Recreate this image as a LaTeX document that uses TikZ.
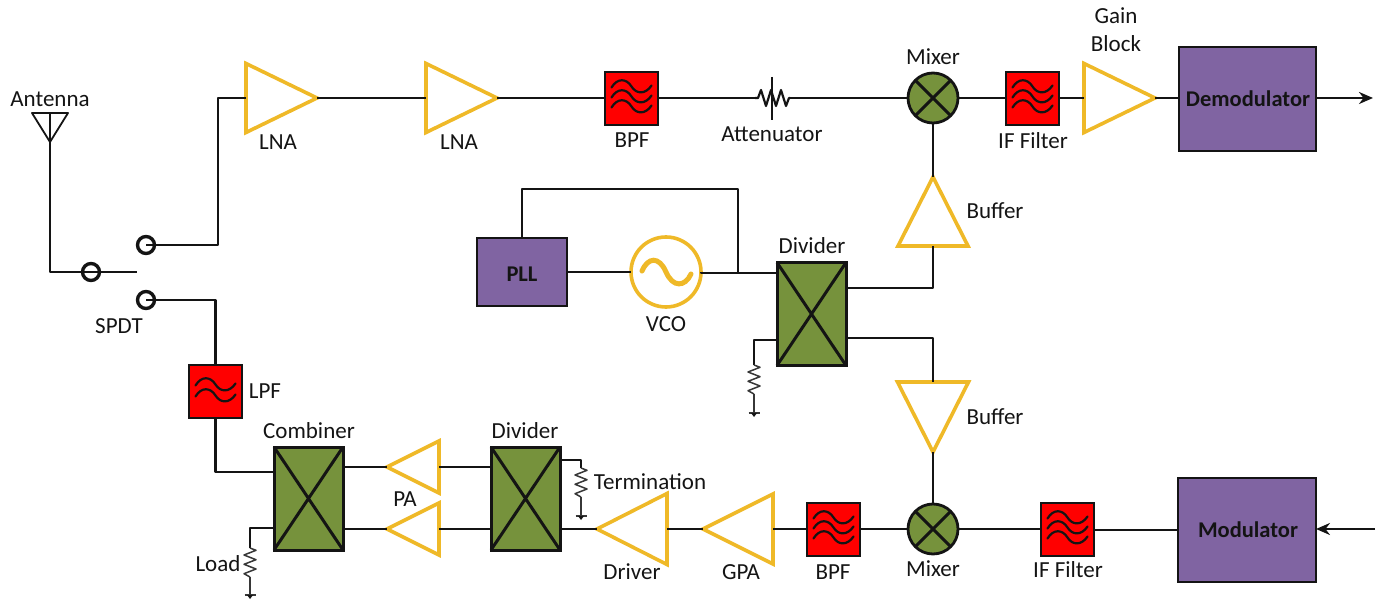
\documentclass[tikz,border=0pt]{standalone}
\usepackage{fontspec}
\setmainfont{Carlito}
\usetikzlibrary{shapes.geometric,arrows.meta}
\definecolor{amber}{HTML}{EFB928}
\definecolor{leaf}{HTML}{76923C}
\definecolor{plum}{HTML}{8064A2}
\definecolor{ink}{HTML}{141414}
\tikzset{
  wire/.style={draw=ink,line width=2.4pt,line join=round},
  thinwire/.style={draw=ink!85,line width=1.5pt,line join=round},
  lbl/.style={font=\fontsize{23}{25}\selectfont,text=ink,inner sep=0pt},
  blbl/.style={font=\fontsize{22.5}{25}\selectfont\bfseries,text=ink,inner sep=0pt},
  amp/.style={isosceles triangle,isosceles triangle stretches,shape border rotate=#1,
    draw=amber,line width=3.6pt,fill=white,inner sep=0pt,outer sep=0pt,line join=miter,anchor=apex},
  filt/.style={rectangle,draw=ink,line width=2.8pt,fill=red,minimum width=53pt,minimum height=53pt,inner sep=0pt,outer sep=0pt},
  block/.style={rectangle,draw=ink,line width=2.6pt,fill=plum,inner sep=0pt,outer sep=0pt},
  hyb/.style={rectangle,draw=ink,line width=3pt,fill=leaf,minimum width=69pt,minimum height=103pt,inner sep=0pt,outer sep=0pt},
  mix/.style={circle,draw=ink,line width=2.8pt,fill=leaf,minimum size=50pt,inner sep=0pt,outer sep=0pt},
  port/.style={circle,draw=ink,line width=3.4pt,minimum size=17pt,inner sep=0pt,outer sep=0pt},
  wave/.style={draw=ink,line width=2.2pt,line cap=round},
}
\newcommand\onewave[2]{\begin{scope}[shift={(#1.center)}]\draw[wave] (-20,#2-2) .. controls (-14,#2-12) and (-5,#2-11) .. (0,#2-3) .. controls (5,#2+5) and (14,#2+5) .. (20,#2-4);\end{scope}}
\newcommand\threewave[1]{\onewave{#1}{-9}\onewave{#1}{1}\onewave{#1}{11}}
\newcommand\twowave[1]{\onewave{#1}{-4}\onewave{#1}{7}}
\newcommand\crossed[1]{\draw[wire,line width=3pt] (#1.north west) -- (#1.south east) (#1.south west) -- (#1.north east);}
\newcommand\zig[2]{\draw[thinwire] (#1) -- ++(6,2.3) -- ++(-12,4.7) -- ++(12,4.7) -- ++(-12,4.6) -- ++(12,4.7) -- ++(-12,4.7) -- (#2);}
\newcommand\gnd[1]{\draw[thinwire] ([xshift=-5.5pt]#1) -- ([xshift=5.5pt]#1);\fill[ink] ([xshift=-3pt]#1) -- ([xshift=3pt]#1) -- ([yshift=-4pt]#1) -- cycle;}
\begin{document}
\begin{tikzpicture}[x=1pt,y=-1pt]
\useasboundingbox (0,0) rectangle (1381,601);
% switch contacts
\node[port] (swIn) at (91,272) {};
\node[port] (swUp) at (146,245) {};
\node[port] (swDn) at (146,300) {};
% amplifiers
\node[amp=0,minimum width=69pt,minimum height=71pt] (lna1) at (317,98) {};
\node[amp=0,minimum width=69pt,minimum height=71pt] (lna2) at (497,98) {};
\node[amp=0,minimum width=69pt,minimum height=71pt] (gain) at (1155,98) {};
\node[amp=90,minimum width=70pt,minimum height=69pt] (buf1) at (933,177) {};
\node[amp=270,minimum width=71pt,minimum height=70pt] (buf2) at (933,452) {};
\node[amp=180,minimum width=52pt,minimum height=52pt] (pa1) at (387,467) {};
\node[amp=180,minimum width=52pt,minimum height=52pt] (pa2) at (387,529) {};
\node[amp=180,minimum width=71pt,minimum height=70pt] (drv) at (597,529) {};
\node[amp=180,minimum width=70pt,minimum height=70pt] (gpa) at (703,529) {};
% filters
\node[filt] (bpf1) at (631.5,98.5) {};\threewave{bpf1}
\node[filt] (if1) at (1032.5,98.5) {};\threewave{if1}
\node[filt] (bpf2) at (833.5,529.5) {};\threewave{bpf2}
\node[filt] (if2) at (1067.5,529.5) {};\threewave{if2}
\node[filt] (lpf) at (215.5,391.5) {};\twowave{lpf}
% mixers
\node[mix] (mix1) at (933,98) {};\crossed{mix1}
\node[mix] (mix2) at (933,529) {};\crossed{mix2}
% hybrids
\node[hyb] (cmb) at (308.5,498.5) {};\crossed{cmb}
\node[hyb] (dv2) at (525.5,498.5) {};\crossed{dv2}
\node[hyb] (dv1) at (811.5,314) {};\crossed{dv1}
% blocks
\node[block,minimum width=137pt,minimum height=104pt] (dem) at (1247.5,99) {};
\node[block,minimum width=138pt,minimum height=104pt] (mod) at (1247,530) {};
\node[block,minimum width=90pt,minimum height=68pt] (pll) at (522,272) {};
% VCO
\node[circle,draw=amber,line width=3.6pt,fill=white,minimum size=70pt,inner sep=0pt,outer sep=0pt] (vco) at (666,272) {};
\begin{scope}[shift={(vco.center)}]
\draw[amber,line width=5pt,line cap=round] (-24,-1) .. controls (-18,-15) and (-7,-16) .. (0,0) .. controls (7,16) and (19,15) .. (25,2);
\end{scope}
% free coordinates
\coordinate (antTip) at (50,142);
\coordinate (antL) at (32,113);
\coordinate (antR) at (68,113);
\coordinate (antTop) at (50,113);
\coordinate (swEnd) at (137,272);
\coordinate (loadA) at (250,548);
\coordinate (loadB) at (250,577);
\coordinate (loadG) at (250,595);
\coordinate (termA) at (581,468);
\coordinate (termB) at (581,497);
\coordinate (termG) at (581,516);
\coordinate (modIn) at (1375,529);
\coordinate (demOut) at (1373,98);
\coordinate (atA) at (755,98);
\coordinate (atB) at (790,98);
\coordinate (atTop) at (772,77);
\coordinate (atBot) at (772,120);
\coordinate (dv1A) at (754,365);
\coordinate (dv1B) at (754,394);
\coordinate (dv1G) at (754,413);
\coordinate (fbA) at (522,189);
\coordinate (fbB) at (738,189);
\coordinate (vcoJoin) at (738,273);
% wires
\draw[wire] (antTop) -- (antTip);
\draw[wire,line width=1.8pt] (antL) -- (antR) -- (antTip) -- cycle;
\draw[wire] (antTip) |- (swIn.center) -- (swEnd);
\draw[wire] (swUp.center) -| (218,98) -- (lna1.lower side);
\draw[wire] (swDn.center) -| (lpf.north);
\draw[wire] (lpf.south) |- (cmb.west |- 0,472);
\draw[wire] (cmb.east |- pa1.apex) -- (pa1.apex);
\draw[wire] (cmb.east |- pa2.apex) -- (pa2.apex);
\draw[wire] (pa1.lower side) -- (pa1.lower side -| dv2.west);
\draw[wire] (pa2.lower side) -- (pa2.lower side -| dv2.west);
\draw[wire] (dv2.east |- 0,460) -| (termA);
\draw[thinwire] (termB) -- (termG);
\draw[wire] (dv2.east |- drv.apex) -- (drv.apex);
\draw[wire] (drv.lower side) -- (gpa.apex);
\draw[wire] (gpa.lower side) -- (gpa.lower side -| bpf2.west);
\draw[wire] (bpf2.east |- mix2.west) -- (mix2.west);
\draw[wire] (mix2.east) -- (mix2.east -| if2.west);
\draw[wire] (if2.east |- mod.west) -- (mod.west);
\draw[wire,-{Stealth[length=14pt,width=12pt]}] (modIn) -- (mod.east |- modIn);
\draw[wire] (lna1.apex) -- (lna2.lower side);
\draw[wire] (lna2.apex) -- (lna2.apex -| bpf1.west);
\draw[wire] (bpf1.east |- atA) -- (atA);
\draw[wire] (atB) -- (mix1.west);
\draw[wire] (mix1.east) -- (mix1.east -| if1.west);
\draw[wire] (if1.east |- gain.lower side) -- (gain.lower side);
\draw[wire] (gain.apex) -- (gain.apex -| dem.west);
\draw[wire,-{Stealth[length=14pt,width=12pt]}] (dem.east |- demOut) -- (demOut);
\draw[wire] (mix1.south) -- (buf1.apex);
\draw[wire] (buf1.lower side) |- (dv1.east |- 0,288);
\draw[wire] (dv1.east |- 0,338) -| (buf2.lower side);
\draw[wire] (buf2.apex) -- (mix2.north);
\draw[wire] (pll.east) -- (vco.west);
\draw[wire] (vco.east) -- (vco.east |- vcoJoin) -- (dv1.west |- vcoJoin);
\draw[wire] (pll.north) -- (fbA) -- (fbB) -- (vcoJoin);
\draw[wire] (dv1.west |- 0,340) -| (dv1A);
\draw[thinwire] (dv1B) -- (dv1G);
\draw[wire] (cmb.west |- 0,528) -| (loadA);
\draw[thinwire] (loadB) -- (loadG);
% resistors
\zig{dv1A}{dv1B}
\zig{loadA}{loadB}
\zig{termA}{termB}
\gnd{dv1G}\gnd{loadG}\gnd{termG}
\draw[thinwire,line width=2.2pt,draw=ink] (atA) -- ++(3,0) -- ++(3,-8) -- ++(5,16) -- ++(5,-16) -- ++(5,16) -- ++(5,-16) -- ++(5,16) -- ++(3,-8) -- (atB);
\draw[wire] (atTop) -- (atBot);
% labels
\node[lbl] (tAnt) at (50,99) {Antenna};
\node[lbl] (tLna1) at (278,142) {LNA};
\node[lbl] (tLna2) at (459,142) {LNA};
\node[lbl] (tBpf1) at (632,140) {BPF};
\node[lbl] (tAtt) at (772,134) {Attenuator};
\node[lbl] (tMix1) at (933,57) {Mixer};
\node[lbl] (tGain1) at (1116,16) {Gain};
\node[lbl] (tGain2) at (1116,44) {Block};
\node[lbl] (tIf1) at (1033,141) {IF Filter};
\node[blbl] (tDem) at (1248,99) {Demodulator};
\node[lbl] (tBuf1) at (995,211) {Buffer};
\node[lbl] (tBuf2) at (995,417) {Buffer};
\node[blbl] (tPll) at (522,274) {PLL};
\node[lbl] (tVco) at (666,324) {VCO};
\node[lbl] (tDv1) at (812,246) {Divider};
\node[lbl] (tSpdt) at (119,326) {SPDT};
\node[lbl] (tLpf) at (265,391) {LPF};
\node[lbl] (tCmb) at (309,431) {Combiner};
\node[lbl] (tDv2) at (525,431) {Divider};
\node[lbl] (tPa) at (405,499) {PA};
\node[lbl] (tTerm) at (650,482) {Termination};
\node[lbl] (tLoad) at (218,564) {Load};
\node[lbl] (tDrv) at (632,572) {Driver};
\node[lbl] (tGpa) at (741,572) {GPA};
\node[lbl] (tBpf2) at (833,572) {BPF};
\node[lbl] (tMix2) at (933,569) {Mixer};
\node[lbl] (tIf2) at (1068,570) {IF Filter};
\node[blbl] (tMod) at (1248,530) {Modulator};
\end{tikzpicture}
\end{document}
